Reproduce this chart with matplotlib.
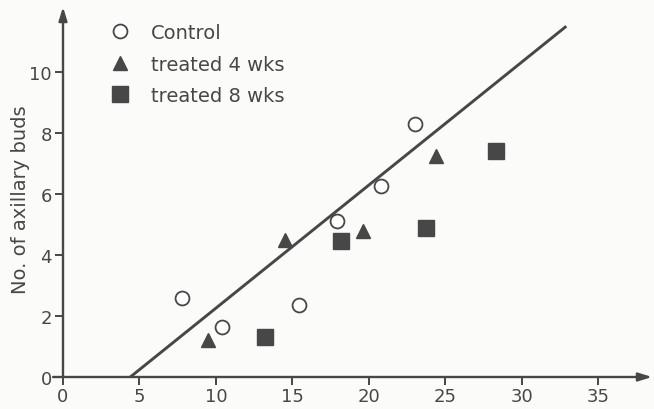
import matplotlib
matplotlib.use("Agg")
import matplotlib.pyplot as plt
from matplotlib.lines import Line2D

# ---- data ----
control_x = [7.8, 10.4, 15.4, 17.9, 20.8, 23.0]
control_y = [2.6, 1.65, 2.35, 5.1, 6.25, 8.3]
wk4_x = [9.5, 14.5, 19.6, 24.4]
wk4_y = [1.2, 4.5, 4.8, 7.25]
wk8_x = [13.2, 18.2, 23.7, 28.3]
wk8_y = [1.3, 4.45, 4.9, 7.4]
fit_x = [4.4, 32.9]
fit_y = [0.0, 11.5]
xticks = [0, 5, 10, 15, 20, 25, 30, 35]
yticks = [0, 2, 4, 6, 8, 10]
labels = ["Control", "treated 4 wks", "treated 8 wks"]
ylabel = "No. of axillary buds"

ink = "#474747"
bg = "#fbfbfa"
plt.rcParams['font.family'] = ['DejaVu Sans']

W, H = 654, 410
fig = plt.figure(figsize=(W / 100, H / 100), dpi=100, facecolor=bg)
x0, x1 = 63, 652
y0, y1 = 378, 8
ax = fig.add_axes([x0 / W, (H - y0) / H, (x1 - x0) / W, (y0 - y1) / H])
ax.set_facecolor(bg)
ax.set_xlim(0, 38.5)
ax.set_ylim(0, 12.13)

for s in ax.spines.values():
    s.set_visible(False)

# axes with arrows
ax.annotate("", xy=(38.5, 0), xytext=(-0.65, 0), xycoords="data",
            arrowprops=dict(arrowstyle="-|>,head_length=0.8,head_width=0.25",
                            color=ink, lw=1.7, shrinkA=0, shrinkB=0),
            annotation_clip=False)
ax.annotate("", xy=(0, 12.13), xytext=(0, 0), xycoords="data",
            arrowprops=dict(arrowstyle="-|>,head_length=0.8,head_width=0.25",
                            color=ink, lw=1.7, shrinkA=0, shrinkB=0),
            annotation_clip=False)

ax.set_xticks(xticks)
ax.set_yticks(yticks)
ax.tick_params(axis="both", direction="out", length=6, width=1.4, color=ink,
               labelcolor=ink, labelsize=13)
ax.tick_params(axis="x", pad=1)
ax.tick_params(axis="y", pad=2)

ax.plot(fit_x, fit_y, color=ink, lw=2.1, solid_capstyle="butt")
ax.plot(control_x, control_y, "o", ms=10, mfc="white", mec=ink, mew=1.3, ls="none")
ax.plot(wk4_x, wk4_y, "^", ms=10, color=ink, ls="none")
ax.plot(wk8_x, wk8_y, "s", ms=11, color=ink, ls="none")

ax.set_ylabel(ylabel, fontsize=14, color=ink)
ax.yaxis.set_label_coords(-33 / (x1 - x0), (378 - 200) / (y0 - y1))

handles = [
    Line2D([], [], marker="o", ms=10, mfc="white", mec=ink, mew=1.3, ls="none"),
    Line2D([], [], marker="^", ms=10, color=ink, ls="none"),
    Line2D([], [], marker="s", ms=11, color=ink, ls="none"),
]
leg = ax.legend(handles, labels, loc="upper left",
                bbox_to_anchor=(110 / W, 1 - 24 / H), bbox_transform=fig.transFigure,
                frameon=False, fontsize=14, handlelength=1.0, handletextpad=1.1,
                labelspacing=0.65, borderpad=0, borderaxespad=0)
for t in leg.get_texts():
    t.set_color(ink)

fig.savefig("out.png", dpi=100, facecolor=bg)
